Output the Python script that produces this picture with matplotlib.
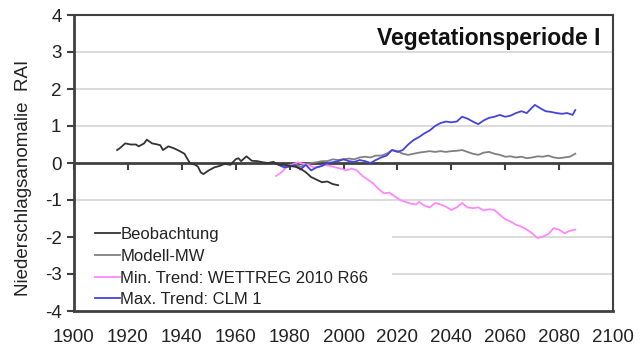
import matplotlib
matplotlib.use("Agg")
import matplotlib.pyplot as plt
from matplotlib.ticker import NullFormatter
from matplotlib.patches import Rectangle

plt.rcParams['font.family'] = ['Liberation Sans', 'DejaVu Sans']

# Beobachtung
jahre_beob = [1916, 1917, 1919, 1921, 1923, 1924, 1926, 1927, 1929, 1931, 1932, 1933, 1935,
              1937, 1939, 1941, 1942, 1943, 1945, 1946, 1947, 1948, 1949, 1950, 1952, 1954,
              1956, 1958, 1960, 1961, 1962, 1964, 1966, 1968, 1970, 1972, 1974, 1976, 1978,
              1980, 1982, 1984, 1986, 1988, 1990, 1992, 1994, 1996, 1998]
beob = [0.35, 0.4, 0.53, 0.5, 0.5, 0.45, 0.53, 0.63, 0.53, 0.5, 0.48, 0.35, 0.45,
        0.4, 0.33, 0.25, 0.12, 0.0, -0.05, -0.1, -0.25, -0.3, -0.25, -0.2, -0.12, -0.08,
        -0.02, -0.05, 0.1, 0.13, 0.05, 0.18, 0.06, 0.05, 0.02, 0.0, 0.03, -0.05, -0.05,
        -0.08, -0.1, -0.15, -0.25, -0.38, -0.45, -0.52, -0.5, -0.57, -0.6]

# Modell-MW
jahre_mw = list(range(1976, 2087, 2))
modell_mw = [-0.05, -0.1, -0.05, -0.02, -0.1, -0.05, 0.0, 0.02, 0.05, 0.05, 0.1, 0.08,
             0.1, 0.12, 0.1, 0.15, 0.17, 0.15, 0.2, 0.2, 0.25, 0.35, 0.32, 0.25, 0.22,
             0.25, 0.28, 0.3, 0.32, 0.3, 0.32, 0.3, 0.32, 0.33, 0.35, 0.3, 0.25, 0.22,
             0.28, 0.3, 0.25, 0.22, 0.17, 0.18, 0.15, 0.17, 0.13, 0.15, 0.18, 0.17, 0.2,
             0.15, 0.13, 0.15, 0.17, 0.25]

# Max. Trend: CLM 1
jahre_max = [1976, 1978, 1980, 1982, 1984, 1986, 1988, 1990, 1992, 1994, 1996, 1998, 2000,
             2002, 2004, 2006, 2008, 2010, 2012, 2014, 2016, 2018, 2020, 2022, 2024, 2026,
             2028, 2030, 2032, 2034, 2036, 2038, 2040, 2042, 2044, 2046, 2048, 2050, 2052,
             2054, 2056, 2058, 2060, 2062, 2064, 2066, 2068, 2070, 2071, 2073, 2075, 2077,
             2079, 2081, 2083, 2085, 2086]
max_trend = [-0.05, -0.12, -0.1, -0.05, -0.18, -0.05, -0.2, -0.12, -0.08, 0.0, 0.02, 0.05, 0.1,
             0.05, 0.03, 0.08, 0.05, 0.0, 0.08, 0.15, 0.2, 0.35, 0.3, 0.35, 0.5, 0.62,
             0.7, 0.8, 0.88, 1.0, 1.08, 1.12, 1.1, 1.12, 1.25, 1.2, 1.12, 1.05, 1.15,
             1.22, 1.25, 1.3, 1.25, 1.28, 1.35, 1.4, 1.35, 1.5, 1.57, 1.48, 1.4, 1.38,
             1.35, 1.33, 1.35, 1.3, 1.43]

# Min. Trend: WETTREG 2010 R66
jahre_min = [1975, 1977, 1979, 1981, 1983, 1985, 1987, 1989, 1991, 1993, 1995, 1997, 1999,
             2001, 2003, 2005, 2007, 2009, 2011, 2013, 2015, 2017, 2019, 2021, 2023, 2025,
             2027, 2028, 2030, 2032, 2034, 2036, 2038, 2040, 2042, 2044, 2046, 2048, 2050,
             2052, 2054, 2056, 2058, 2060, 2062, 2064, 2066, 2068, 2070, 2072, 2074, 2076,
             2078, 2080, 2082, 2084, 2086]
min_trend = [-0.35, -0.25, -0.1, -0.05, 0.02, -0.02, -0.05, -0.12, -0.1, -0.05, -0.08, -0.12, -0.15,
             -0.2, -0.15, -0.2, -0.35, -0.45, -0.55, -0.7, -0.82, -0.8, -0.9, -1.0, -1.05, -1.1,
             -1.12, -1.05, -1.15, -1.2, -1.08, -1.12, -1.18, -1.27, -1.2, -1.08, -1.2, -1.22, -1.2,
             -1.28, -1.25, -1.27, -1.4, -1.52, -1.58, -1.67, -1.72, -1.8, -1.9, -2.03, -1.99, -1.92,
             -1.76, -1.8, -1.9, -1.83, -1.8]

titel = "Vegetationsperiode I"
ylabel = "Niederschlagsanomalie  RAI"
xticks = list(range(1900, 2101, 20))
yticks = list(range(-4, 5))

dunkel = "#404040"

fig = plt.figure(figsize=(6.4, 3.58), dpi=100)
ax = fig.add_axes([74/640, 47/358, 539/640, 296/358])

for y in yticks:
    if y not in (0, 4, -4):
        ax.axhline(y, color="#d4d4d4", lw=1.2, zorder=0)

# weisser Hintergrund der Legende (verdeckt Gitterlinien)
ax.add_patch(Rectangle((0, 0), 0.59, 0.29, transform=ax.transAxes,
                       facecolor='white', edgecolor='none', zorder=1))

ax.axhline(0, color=dunkel, lw=2, zorder=2)

ax.plot(jahre_beob, beob, color="#333333", lw=1.3, label="Beobachtung", zorder=4)
ax.plot(jahre_mw, modell_mw, color="#808080", lw=1.3, label="Modell-MW", zorder=3)
ax.plot(jahre_min, min_trend, color="#ff88ff", lw=1.3, label="Min. Trend: WETTREG 2010 R66", zorder=3)
ax.plot(jahre_max, max_trend, color="#4444dd", lw=1.3, label="Max. Trend: CLM 1", zorder=3)

ax.set_xlim(1900, 2100)
ax.set_ylim(-4, 4)
ax.set_xticks(xticks)
ax.set_yticks(yticks)
ax.set_yticklabels([str(v) for v in yticks])

for s in ax.spines.values():
    s.set_color(dunkel)
    s.set_linewidth(1.5)
ax.spines['bottom'].set_linewidth(2)
ax.spines['left'].set_linewidth(2)

ax.tick_params(axis='x', length=0, pad=13, labelsize=13.5, colors="#222222")
ax.tick_params(axis='y', length=5, width=1.5, color=dunkel, pad=4, labelsize=13.5, labelcolor="#222222")

# Teilstriche an der Nulllinie
sec = ax.secondary_xaxis(0.5)
sec.set_xticks(xticks)
sec.xaxis.set_major_formatter(NullFormatter())
sec.tick_params(axis='x', which='both', direction='in', length=5, width=1.5, color=dunkel,
                labeltop=False, labelbottom=False)
for s in sec.spines.values():
    s.set_visible(False)

ax.set_ylabel(ylabel, fontsize=13.5, color="#222222")
ax.yaxis.set_label_coords(-0.078, 0.45)

ax.text(0.976, 0.92, titel, transform=ax.transAxes, ha='right', va='center',
        fontsize=16.5, fontweight='bold', color="#111111")

leg = ax.legend(loc='lower left', bbox_to_anchor=(0.035, 0.007), borderaxespad=0,
                fontsize=12, handlelength=1.5, handletextpad=0.05, labelspacing=0.4,
                borderpad=0.1, frameon=False)
leg.set_zorder(5)
for t in leg.get_texts():
    t.set_color("#222222")

fig.savefig("out.png", dpi=100)
